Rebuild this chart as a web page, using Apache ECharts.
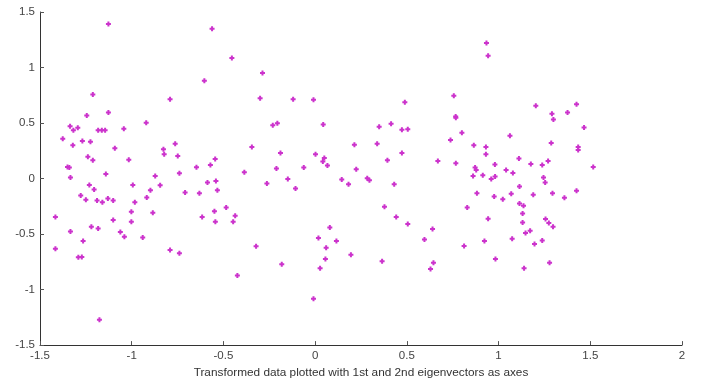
<!DOCTYPE html>
<html>
<head>
<meta charset="utf-8">
<script src="https://cdn.jsdelivr.net/npm/echarts@6/dist/echarts.min.js"></script>
<style>html,body{margin:0;padding:0;background:#fff;}#c{width:705px;height:384px;}</style>
</head>
<body>
<div id="c"></div>
<script>
const xs = [
-1.127,-1.212,-1.245,-1.127,-0.791,-1.336,-1.294,-1.318,-1.183,-1.163,-1.145,-1.043,-0.921,-1.376,-1.269,-1.225,-1.321,-1.092,-0.827,-0.823,-0.763,-0.749,-1.239,-1.212,-1.016,-1.35,-1.34,-1.141,-1.334,-0.872,-0.740,
-1.231,-0.994,-1.205,-0.845,-0.898,-1.278,-0.918,-1.25,-1.13,-1.189,-1.160,-1.101,-0.983,-1.002,-0.885,-1.416,-1.101,-1.002,-1.220,-1.183,-1.334,-1.062,-1.040,-0.94,-1.265,-1.416,-0.791,-0.740,-1.291,-1.272,-1.176,
-0.562,-0.454,-0.287,-0.604,-0.300,-0.120,-0.009,-0.231,-0.206,0.044,-0.345,-0.189,-0.545,-0.571,-0.647,0.002,0.05,0.042,0.067,-0.211,-0.062,-0.386,-0.149,-0.587,-0.541,-0.263,
-0.107,-0.709,-0.631,-0.533,-0.485,-0.549,-0.436,-0.616,-0.544,-0.447,-0.322,-0.182,-0.424,0.018,0.060,0.056,0.027,-0.009,
0.145,0.182,0.284,0.296,0.431,0.378,0.442,0.505,0.080,0.116,0.195,0.365,0.640,0.596,0.645,0.629,0.829,0.812,
0.489,0.756,0.766,0.767,0.349,0.414,0.473,0.505,0.800,0.738,0.214,0.338,0.473,0.394,0.669,0.767,0.224,
0.934,0.943,1.203,1.425,1.291,1.299,1.376,1.466,1.062,0.865,0.931,0.931,1.287,1.434,1.434,1.111,1.270,0.980,1.176,1.238,0.872,0.878,1.041,1.078,1.516,0.861,0.914,0.960,0.981,1.245,1.254,
0.882,0.976,1.023,1.069,1.114,1.189,1.294,1.359,1.425,1.114,1.136,1.131,0.943,1.131,1.256,1.274,1.297,1.147,1.172,1.074,0.923,1.196,1.238,0.983,1.278,1.139
];
const ys = [
1.391,0.757,0.568,0.595,0.715,0.472,0.457,0.434,0.434,0.434,0.434,0.449,0.503,0.359,0.338,0.332,0.299,0.272,0.263,0.218,0.314,0.203,0.197,0.164,0.170,0.104,0.099,0.041,0.009,0.023,0.048,
-0.057,-0.057,-0.099,-0.060,-0.105,-0.153,-0.171,-0.192,-0.180,-0.197,-0.213,-0.197,-0.213,-0.300,-0.309,-0.347,-0.374,-0.389,-0.434,-0.449,-0.476,-0.482,-0.524,-0.53,-0.563,-0.632,-0.644,-0.673,-0.709,-0.706,-1.272,
1.349,1.086,0.951,0.880,0.724,0.715,0.709,0.481,0.499,0.487,0.284,0.230,0.176,0.122,0.101,0.218,0.185,0.153,0.117,0.090,0.099,0.057,-0.004,-0.036,-0.022,-0.045,
-0.090,-0.126,-0.132,-0.105,-0.260,-0.294,-0.336,-0.347,-0.389,-0.389,-0.610,-0.772,-0.874,-0.536,-0.623,-0.724,-0.808,-1.083,
-0.009,-0.051,0.003,-0.015,-0.051,-0.255,-0.347,-0.410,-0.440,-0.563,-0.686,-0.745,-0.455,-0.548,-0.758,-0.814,-0.260,-0.608,
0.688,0.745,0.559,0.547,0.467,0.494,0.440,0.445,0.413,0.347,0.305,0.314,0.230,0.164,0.158,0.137,0.083,
1.221,1.107,0.655,0.670,0.583,0.532,0.595,0.460,0.386,0.299,0.284,0.218,0.320,0.284,0.257,0.180,0.158,0.126,0.131,0.122,0.099,0.077,0.077,0.050,0.104,0.023,0.030,-0.004,0.018,0.009,-0.036,
-0.132,-0.162,-0.186,-0.138,-0.072,-0.147,-0.132,-0.174,-0.111,-0.224,-0.246,-0.314,-0.362,-0.395,-0.365,-0.401,-0.434,-0.491,-0.470,-0.542,-0.563,-0.590,-0.557,-0.724,-0.758,-0.808
];
const xTicks = [-1.5,-1,-0.5,0,0.5,1,1.5,2];
const yTicks = [-1.5,-1,-0.5,0,0.5,1,1.5];
const xTitle = 'Transformed data plotted with 1st and 2nd eigenvectors as axes';

const pts = xs.map((x,i)=>[x, ys[i]]);
const font = '"Liberation Sans", Arial, sans-serif';
const axisCommon = {
  splitLine:{show:false},
  axisLine:{show:true,onZero:false,lineStyle:{color:'#333',width:1}},
  axisTick:{show:true,inside:true,length:4,lineStyle:{color:'#555'}},
  axisLabel:{color:'#444',fontSize:11.5,fontFamily:font,margin:5}
};
const chart = echarts.init(document.getElementById('c'),null,{renderer:'canvas'});
chart.setOption({
  animation:false,
  backgroundColor:'#fff',
  grid:{left:40,right:23,top:12,bottom:38,containLabel:false},
  xAxis:Object.assign({},axisCommon,{type:'value',min:xTicks[0],max:xTicks[xTicks.length-1],interval:0.5,
    name:xTitle,nameLocation:'middle',nameGap:21,nameTextStyle:{color:'#333',fontSize:11.8,fontFamily:font,verticalAlign:'top'}}),
  yAxis:Object.assign({},axisCommon,{type:'value',min:yTicks[0],max:yTicks[yTicks.length-1],interval:0.5}),
  series:[{type:'scatter',data:pts,symbol:'path://M1.5,0h2v1.5h1.5v2h-1.5v1.5h-2v-1.5h-1.5v-2h1.5z',symbolSize:5,
    itemStyle:{color:'#cc33cc',opacity:1}}]
});
</script>
</body>
</html>
